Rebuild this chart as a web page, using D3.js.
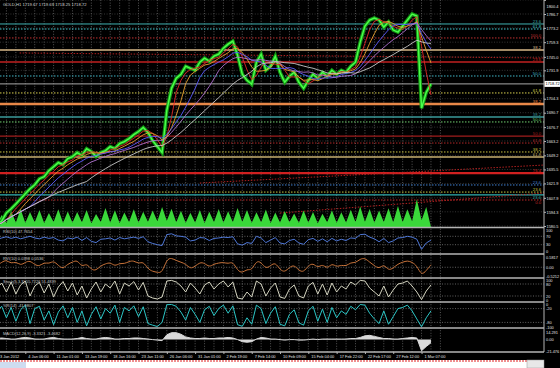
<!DOCTYPE html>
<html>
<head>
<meta charset="utf-8">
<script src="https://cdn.jsdelivr.net/npm/d3@7"></script>
<style>
body { margin: 0; background: #000; }
svg { display: block; }
text { font-family: "Liberation Sans", Arial, sans-serif; }
</style>
</head>
<body>
<script>
let width = 560
let height = 368
let axisX = 544

// price closes, one value per half grid step
let closes = [1581.5, 1585.4, 1593.3, 1597.2, 1602.0, 1606.9, 1611.8, 1616.7, 1620.6, 1626.5,
	1628.4, 1634.3, 1638.2, 1642.1, 1640.2, 1646.0, 1648.0, 1651.9, 1649.0, 1655.8,
	1652.9, 1648.0, 1651.9, 1653.8, 1657.7, 1655.8, 1660.7, 1662.6, 1665.5, 1669.4,
	1672.4, 1676.3, 1671.4, 1663.6, 1657.7, 1651.9, 1692.9, 1714.4, 1724.2, 1728.1,
	1735.9, 1733.9, 1732.0, 1739.8, 1743.7, 1740.8, 1745.7, 1747.6, 1753.5, 1757.4,
	1760.3, 1746.6, 1728.1, 1722.2, 1718.3, 1739.8, 1747.6, 1732.0, 1735.9, 1745.7,
	1730.0, 1720.3, 1726.1, 1730.0, 1720.3, 1714.4, 1722.2, 1728.1, 1724.2, 1730.0,
	1726.1, 1732.0, 1728.1, 1732.0, 1730.0, 1735.9, 1739.8, 1759.3, 1775.0, 1780.8,
	1782.8, 1780.8, 1774.0, 1778.9, 1771.1, 1769.1, 1775.0, 1780.8, 1786.7, 1784.7,
	1695.0, 1710.5, 1718.7]

let volume = [1500, 5400, 1800, 7200, 2000, 8100, 1900, 6800, 2100, 7600,
	1800, 6300, 2200, 8000, 1900, 7000, 2000, 6700, 2100, 7600,
	1700, 5800, 2300, 8600, 2000, 7500, 1800, 6500, 2200, 8000,
	2000, 6900, 2400, 7400, 2600, 9000, 2800, 8200, 2100, 7300,
	1900, 6400, 2000, 7700, 1800, 6900, 2200, 8100, 2000, 7100,
	2300, 8600, 2400, 7600, 1900, 6600, 2100, 7900, 1800, 6500,
	2000, 7200, 2100, 6100, 1900, 7400, 2000, 6800, 1700, 6000,
	2100, 7500, 1900, 6600, 2000, 7800, 2200, 9200, 2400, 8100,
	2000, 7400, 2200, 8400, 2100, 9500, 2300, 8000, 2600, 12500,
	3000, 9000, 0]

let rsi = [55, 62, 68, 60, 66, 58, 64, 70, 62, 58, 66, 60, 64,
	52, 48, 62, 58, 66, 50, 64, 46,
	40, 56, 58, 62, 52, 64, 58, 62, 66, 60, 68, 44, 36, 30, 26,
	78, 82, 72, 70, 66,
	48, 52, 64, 62, 50, 60, 62, 66, 64, 68,
	34, 28, 40, 36,
	70, 62, 40, 52, 64, 38,
	34, 50, 56, 38, 32, 54, 60, 46, 58, 44, 60, 48, 56, 50, 62, 60,
	78, 80, 66, 58, 44, 60, 40, 48, 62, 64, 70, 66, 56,
	8, 38, 52]

let rvi = [0.1, 0.3, 0.45, 0.2, 0.35, 0.1, 0.3, 0.4, 0.15, 0.05,
	0.3, 0.2, 0.4, 0.1, -0.1, 0.2, 0.3, 0.45, 0.0, 0.25,
	-0.15, -0.2, 0.1, 0.2, 0.3, 0.05, 0.25, 0.2, 0.35, 0.4,
	0.2, 0.35, -0.1, -0.25, -0.3, -0.35, 0.5, 0.55, 0.4, 0.3,
	0.2, -0.1, 0.05, 0.3, 0.25, 0.0, 0.2, 0.25, 0.3, 0.2,
	0.35, -0.2, -0.35, -0.1, -0.2, 0.4, 0.3, -0.1, 0.1, 0.3,
	-0.15, -0.3, 0.0, 0.15, -0.2, -0.3, 0.1, 0.25, -0.05, 0.2,
	-0.1, 0.25, 0.0, 0.15, 0.05, 0.3, 0.25, 0.5, 0.55, 0.3,
	0.1, -0.1, 0.2, -0.2, -0.05, 0.2, 0.3, 0.4, 0.3, 0.1,
	-0.5, -0.2, 0.15]

let stoch = [60, 85, 40, 90, 30, 75, 95, 20, 70, 88,
	35, 80, 15, 65, 92, 45, 85, 25, 70, 10,
	55, 90, 40, 80, 60, 95, 30, 85, 70, 92,
	50, 88, 20, 10, 5, 15, 95, 98, 90, 70,
	40, 85, 60, 30, 75, 90, 55, 80, 95, 65,
	90, 10, 5, 40, 15, 95, 80, 20, 60, 85,
	15, 8, 55, 75, 20, 10, 70, 88, 30, 80,
	25, 85, 40, 70, 55, 90, 75, 98, 95, 60,
	40, 20, 70, 15, 50, 80, 85, 95, 70, 40,
	2, 45, 75]

let wpr = [-30, -10, -60, -15, -75, -25, -5, -85, -20, -10,
	-70, -30, -90, -35, -8, -60, -15, -80, -30, -95,
	-45, -12, -65, -20, -40, -5, -80, -15, -30, -8,
	-55, -12, -85, -92, -98, -80, -3, -2, -10, -35,
	-70, -15, -45, -80, -25, -10, -50, -20, -5, -40,
	-8, -90, -97, -60, -88, -5, -20, -85, -40, -12,
	-88, -95, -45, -25, -82, -92, -30, -10, -75, -22,
	-80, -15, -60, -30, -45, -10, -25, -2, -5, -40,
	-65, -85, -30, -88, -55, -20, -15, -5, -30, -65,
	-99, -60, -30]

let macd = [2, 3, 2, 1, 1, 3, 4, 3, 1, 1,
	1, 3, 4, 2, 1, 1, 1, 2, 4, 2,
	1, 1, 3, 4, 3, 1, 1, 2, 2, 3,
	3, 2, 1, 0, -1, -2, 9, 13, 13, 10,
	5, 3, 2, 2, 3, 2, 2, 3, 3, 4,
	3, 0, -4, -5, -4, 1, 4, 3, 1, 1,
	0, -1, 0, 0, -1, -1, 0, 1, 0, 1,
	1, 1, 1, 1, 1, 2, 2, 4, 7, 8,
	6, 4, 2, 2, 1, 1, 2, 3, 4, 3,
	-21, -13, -6]

let maPeriods = [3, 5, 8, 12, 20]

let priceTicks = [1800.4, 1786.7, 1773.2, 1759.3, 1745.0, 1731.9, 1704.3, 1690.7,
	1676.7, 1663.2, 1649.2, 1635.5, 1621.9, 1607.9, 1594.3, 1580.5]
let lastPrice = 1718.72

let timeLabels = ["3 Jan 2012", "4 Jan 06:00", "11 Jan 01:00", "13 Jan 19:00", "18 Jan 16:00",
	"23 Jan 11:00", "26 Jan 06:00", "31 Jan 01:00", "2 Feb 19:00", "7 Feb 14:00",
	"10 Feb 09:00", "15 Feb 04:00", "17 Feb 22:00", "22 Feb 17:00", "27 Feb 12:00", "1 Mar 07:00"]

let fibPrices = [1777.0, 1772.1, 1763.4, 1751.7, 1740.0, 1726.4, 1709.9, 1699.2, 1686.5, 1681.7,
	1668.0, 1661.2, 1652.5, 1647.6, 1632.0, 1620.4, 1613.5, 1610.7, 1605.8]
let fibNames = ["23.6", "61.8", "100.0", "38.2", "23.6", "50.0", "61.8", "38.2", "38.2", "50.0",
	"50.0", "61.8", "38.2", "61.8", "76.4", "23.6", "23.6", "23.6", "0.0"]

// trend lines: [start step, start price] -> [end step, end price]
let trendStart = [[2.4, 1748.8], [21.5, 1622.3], [30.0, 1593.1]]
let trendEnd = [[58, 1743.9], [58, 1639.8], [58, 1612.6]]

// styles
let fibColors = ["#3fb0b0", "#40c8d0", "#c03030", "#d8b888", "#c02020", "#40b8c8", "#d8d050", "#e88848", "#3a9a9a", "#70d070",
	"#a01c1c", "#b02828", "#c8c040", "#c8b070", "#d02020", "#3f7fd0", "#c8c840", "#30b0b0", "#c02828"]
let fibDash = [null, "1.5,1.5", "1.5,1.5", null, null, "1.5,1.5", "1.5,1.5", null, null, "1.5,1.5",
	null, "1.5,1.5", "1.5,1.5", null, null, "1.5,1.5", "1.5,1.5", null, "1.5,1.5"]
let fibWidth = [1, 1, 1, 1.3, 1.3, 1, 1, 2.5, 1.3, 1, 1.3, 1, 1, 1.3, 2.2, 1, 1, 1.3, 1]
let fibShift = [-1.2, -1.2, -1.2, -1.2, -1.2, -1.2, -1.2, -1.2, -1.2, -1.2,
	-1.2, -1.2, -1.2, -1.2, -1.2, -1.2, -1.2, 4, 3.8]
let maColors = ["#e02828", "#e8a030", "#5a5aff", "#b070d0", "#c8c8c8"]

let svg = d3.select("body")
	.append("svg")
	.attr("width", width)
	.attr("height", height)
	.style("background", "#000")

// scales
let x = d3.scaleLinear()
	.domain([0, 47])
	.range([-3, 440.4])

let y = d3.scaleLinear()
	.domain([1580.5, 1786.7])
	.range([226, 14])

let vol = d3.scaleLinear()
	.domain([0, 13500])
	.range([227, 197])

let xi = (d, i) => x(i / 2)

svg.append("defs").append("clipPath").attr("id", "mainClip")
	.append("rect").attr("x", 0).attr("y", 0).attr("width", axisX).attr("height", 227)

// grid
svg.append("g").selectAll("line")
	.data(d3.range(1, 48))
	.enter().append("line")
	.attr("x1", d => x(d)).attr("x2", d => x(d))
	.attr("y1", 0).attr("y2", 352)
	.style("stroke", "#6a6a6a")
	.style("stroke-width", 0.8)
	.style("stroke-dasharray", "1,1.6")

svg.append("g").selectAll("line")
	.data(priceTicks)
	.enter().append("line")
	.attr("x1", 0).attr("x2", axisX)
	.attr("y1", d => y(d)).attr("y2", d => y(d))
	.style("stroke", "#4a4a4a")
	.style("stroke-width", 0.7)
	.style("stroke-dasharray", "1,1.6")

let main = svg.append("g").attr("clip-path", "url(#mainClip)")

// fibo levels
main.selectAll(".fib")
	.data(fibPrices)
	.enter().append("line")
	.attr("class", "fib")
	.attr("x1", 0).attr("x2", axisX)
	.attr("y1", d => y(d)).attr("y2", d => y(d))
	.style("stroke", (d, i) => fibColors[i])
	.style("stroke-width", (d, i) => fibWidth[i])
	.style("stroke-dasharray", (d, i) => fibDash[i])

main.selectAll(".fibLabel")
	.data(fibPrices)
	.enter().append("text")
	.attr("class", "fibLabel")
	.attr("x", 541)
	.attr("y", (d, i) => y(d) + fibShift[i])
	.attr("text-anchor", "end")
	.style("font-size", "4.2px")
	.style("fill", (d, i) => fibColors[i])
	.text((d, i) => fibNames[i])

main.selectAll(".trend")
	.data(trendStart)
	.enter().append("line")
	.attr("class", "trend")
	.attr("x1", d => x(d[0])).attr("y1", d => y(d[1]))
	.attr("x2", (d, i) => x(trendEnd[i][0])).attr("y2", (d, i) => y(trendEnd[i][1]))
	.style("stroke", "#b02020")
	.style("stroke-width", 1)
	.style("stroke-dasharray", "1.5,1.5")

// bid line
main.append("line")
	.attr("x1", 0).attr("x2", axisX)
	.attr("y1", y(lastPrice)).attr("y2", y(lastPrice))
	.style("stroke", "#a8a8a8")
	.style("stroke-width", 1)

// volumes
main.append("path")
	.datum(volume)
	.attr("d", d3.area().x(xi).y0(227).y1(d => vol(d)))
	.style("fill", "#3ad83a")

// price
let priceLine = d3.line().x(xi).y(d => y(d))

main.append("path")
	.datum(closes)
	.attr("d", priceLine)
	.style("fill", "none")
	.style("stroke", "#139a13")
	.style("stroke-width", 3.6)

main.append("path")
	.datum(closes)
	.attr("d", priceLine)
	.style("fill", "none")
	.style("stroke", "#4cff4c")
	.style("stroke-width", 1.4)

// moving averages
let sma = (arr, n) => arr.map((d, i) => d3.mean(arr.slice(Math.max(0, i - n + 1), i + 1)))

main.selectAll(".ma")
	.data(maPeriods)
	.enter().append("path")
	.attr("class", "ma")
	.attr("d", n => priceLine(sma(closes, n)))
	.style("fill", "none")
	.style("stroke", (d, i) => maColors[i])
	.style("stroke-width", 0.9)

// indicator windows
let panels = [
	{values: rsi, domain: [0, 100], range: [251, 230], color: "#4f78d8", levels: [70, 30],
		ticks: [100, 70, 30, 0], labels: ["100", "70", "30", "0"], title: "RSI(10) 47.7654"},
	{values: rvi, domain: [-0.5212, 0.5817], range: [276, 257.5], color: "#c8733a", levels: [0],
		ticks: [0.5817, 0, -0.5212], labels: ["0.5817", "0.00", "-0.5212"], title: "RVI(10) 0.0398 0.0536", smooth: true},
	{values: stoch, domain: [0, 100], range: [300, 280], color: "#d4d4c0", levels: [80, 20],
		ticks: [100, 80, 20, 0], labels: ["100", "80", "20", "0"], title: "Stoch(5,3,3) 55.7226 51.4839"},
	{values: wpr, domain: [-100, 0], range: [327, 304], color: "#2cc6c6", levels: [-20, -80],
		ticks: [0, -20, -80, -100], labels: ["0", "-20", "-80", "-100"], title: "%R(14) -41.9807"},
	{values: macd, domain: [-21.476, 14.291], range: [351, 332], color: "#d8d8d8", levels: [],
		ticks: [14.291, 0, -21.476], labels: ["14.291", "0.00", "-21.476"], title: "MACD(12,26,9) -3.3321 -3.4682", fill: true}
]

panels.forEach(p => {
	let py = d3.scaleLinear().domain(p.domain).range(p.range)
	let g = svg.append("g")

	g.selectAll("line")
		.data(p.levels)
		.enter().append("line")
		.attr("x1", 0).attr("x2", axisX)
		.attr("y1", d => py(d)).attr("y2", d => py(d))
		.style("stroke", "#8a8a8a")
		.style("stroke-width", 0.7)
		.style("stroke-dasharray", "1,1.6")

	if (p.fill) {
		g.append("path")
			.datum(p.values)
			.attr("d", d3.area().x(xi).y0(py(0)).y1(d => py(d)))
			.style("fill", p.color)
	}

	g.append("path")
		.datum(p.values)
		.attr("d", d3.line().x(xi).y(d => py(d)).curve(p.smooth ? d3.curveBasis : d3.curveLinear))
		.style("fill", "none")
		.style("stroke", p.color)
		.style("stroke-width", 1)

	g.append("text")
		.attr("x", 3)
		.attr("y", p.range[1] + 2.5)
		.style("font-size", "4px")
		.style("fill", "#c8c8c8")
		.text(p.title)

	g.selectAll(".tick")
		.data(p.ticks)
		.enter().append("text")
		.attr("x", axisX + 2)
		.attr("y", d => py(d) + 1.5)
		.style("font-size", "3.9px")
		.style("fill", "#e0e0e0")
		.text((d, i) => p.labels[i])
})

// window separators
svg.append("g").selectAll("line")
	.data([227.5, 254, 278, 302, 328, 352])
	.enter().append("line")
	.attr("x1", 0).attr("x2", axisX)
	.attr("y1", d => d).attr("y2", d => d)
	.style("stroke", "#b4b4b4")
	.style("stroke-width", 1.3)

// price axis
svg.append("line")
	.attr("x1", axisX).attr("x2", axisX)
	.attr("y1", 0).attr("y2", 352)
	.style("stroke", "#b4b4b4")
	.style("stroke-width", 1)

let yAxis = d3.axisRight(y)
	.tickValues(priceTicks)
	.tickSize(2)
	.tickFormat(d3.format(".1f"))

let ya = svg.append("g")
	.attr("transform", "translate(" + axisX + ",0)")
	.call(yAxis)
ya.select(".domain").remove()
ya.selectAll("line").style("stroke", "#b4b4b4")
ya.selectAll("text")
	.style("fill", "#e0e0e0")
	.style("font-size", "3.9px")
	.attr("x", 2.5)
	.attr("dy", d => d > 1795 ? "1.9em" : "0.32em")

svg.append("rect")
	.attr("x", axisX + 0.5).attr("y", y(lastPrice) - 3)
	.attr("width", 15.5).attr("height", 6)
	.style("fill", "#fff")
svg.append("text")
	.attr("x", axisX + 1.5).attr("y", y(lastPrice) + 1.4)
	.style("font-size", "3.9px")
	.style("fill", "#000")
	.text(lastPrice.toFixed(2))

svg.append("text")
	.attr("x", 3).attr("y", 6)
	.style("font-size", "4.2px")
	.style("fill", "#d0d0d0")
	.text("GOLD,H1  1719.67 1719.69 1718.25 1718.72")

// time axis
let xAxis = d3.axisBottom(x)
	.tickValues(d3.range(0, 48, 3))
	.tickSize(2)
	.tickFormat((d, i) => timeLabels[i])

let xa = svg.append("g")
	.attr("transform", "translate(0,352)")
	.call(xAxis)
xa.select(".domain").remove()
xa.selectAll("line").style("stroke", "#b4b4b4")
xa.selectAll("text")
	.style("fill", "#e0e0e0")
	.style("font-size", "3.9px")
	.attr("text-anchor", "start")
	.attr("x", 2.5)
	.attr("y", 3)

// tab strip at the bottom
svg.append("rect")
	.attr("x", 0).attr("y", 360)
	.attr("width", 527).attr("height", 8)
	.style("fill", "#fff")
svg.append("rect")
	.attr("x", 0).attr("y", 362)
	.attr("width", 26).attr("height", 6)
	.style("fill", "#cfdcf0")
svg.append("line")
	.attr("x1", 0).attr("x2", 527)
	.attr("y1", 361).attr("y2", 361)
	.style("stroke", "#e02020")
	.style("stroke-width", 1.2)
	.style("stroke-dasharray", "2,1")
svg.append("rect")
	.attr("x", 527).attr("y", 360)
	.attr("width", 17).attr("height", 8)
	.style("fill", "#e8e8e8")
	.style("stroke", "#999")
	.style("stroke-width", 0.5)
</script>
</body>
</html>
